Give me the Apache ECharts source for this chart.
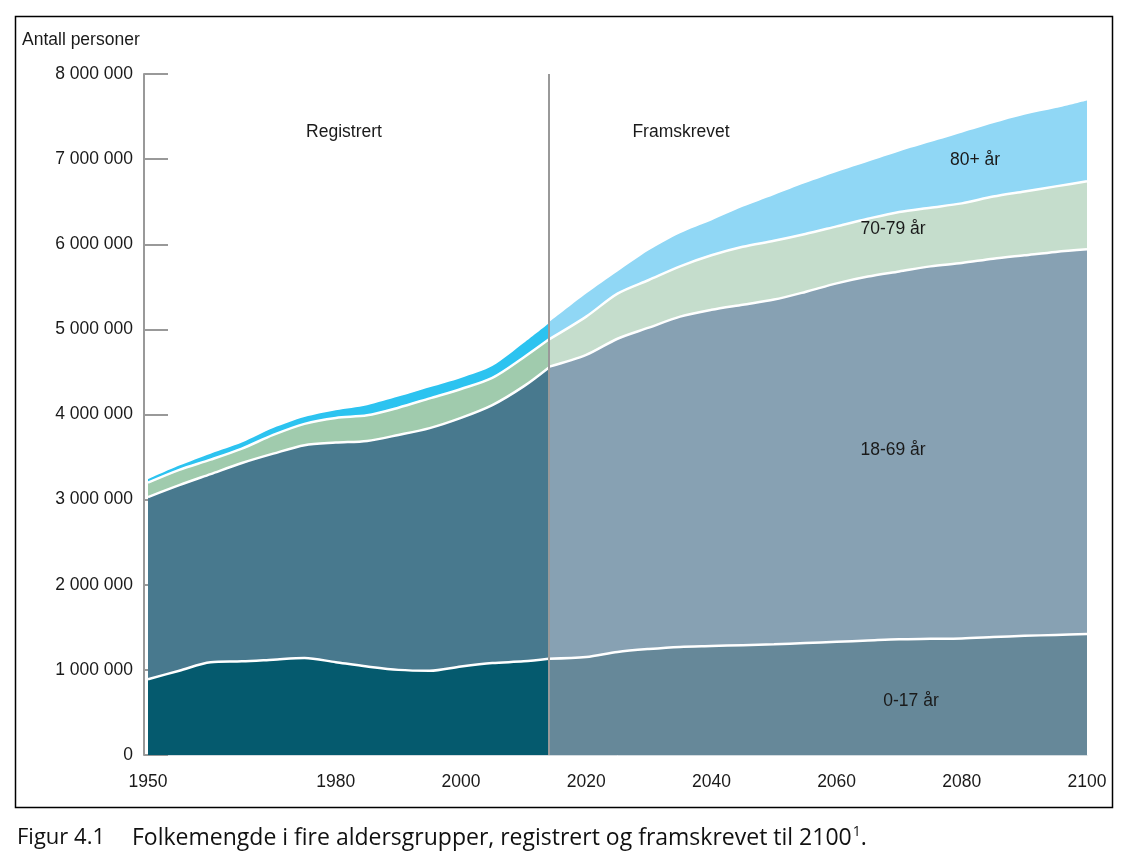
<!DOCTYPE html>
<html>
<head>
<meta charset="utf-8">
<script src="https://cdn.jsdelivr.net/npm/echarts@6/dist/echarts.min.js"></script>
<style>
html,body{margin:0;padding:0;background:#fff;}
#chart{width:1124px;height:852px;}
</style>
</head>
<body>
<div id="chart"></div>
<script>
// ---- Data (persons) ----
const regYears = [1950,1955,1960,1965,1970,1975,1980,1985,1990,1995,2000,2005,2010,2014];
const reg0_17  = [890000,990000,1090000,1100000,1120000,1140000,1090000,1040000,1000000,990000,1040000,1080000,1100000,1130000];
const reg18_69 = [2140000,2180000,2210000,2330000,2420000,2500000,2580000,2650000,2760000,2850000,2920000,3030000,3230000,3420000];
const reg70_79 = [170000,180000,170000,170000,220000,250000,290000,300000,320000,350000,340000,320000,340000,330000];
const reg80    = [40000,50000,70000,70000,80000,80000,90000,120000,130000,130000,130000,140000,170000,190000];

const projYears = [2014,2020,2025,2030,2035,2040,2045,2050,2055,2060,2065,2070,2075,2080,2085,2090,2095,2100];
const proj0_17  = [1130000,1150000,1210000,1245000,1270000,1280000,1290000,1300000,1315000,1330000,1345000,1360000,1365000,1370000,1385000,1400000,1410000,1420000];
const proj18_69 = [3430000,3550000,3680000,3775000,3880000,3950000,4000000,4050000,4125000,4210000,4275000,4320000,4375000,4410000,4445000,4470000,4500000,4520000];
const proj70_79 = [320000,450000,530000,560000,590000,640000,680000,690000,680000,670000,680000,700000,690000,700000,730000,750000,770000,800000];
const proj80    = [200000,270000,260000,350000,390000,410000,470000,540000,600000,640000,670000,710000,770000,830000,860000,900000,920000,950000];

const xTickLabels = [1950,1980,2000,2020,2040,2060,2080,2100];
const yTicks = [0,1000000,2000000,3000000,4000000,5000000,6000000,7000000,8000000];
const splitYear = 2014;

// value first, year second, so the stack is applied to the value dimension
const pair = (xs, vs) => xs.map((x, i) => [vs[i], x]);

const LBL = '"Liberation Sans", Arial, sans-serif';
const FS = 17.5;
const CAP = '"Open Sans", "Noto Sans", sans-serif';

function areaSeries(name, stack, xs, vs, color, z, whiteTop) {
  return {
    name: name,
    type: 'line',
    stack: stack,
    data: pair(xs, vs),
    encode: { x: 1, y: 0 },
    smooth: 0.3,
    symbol: 'none',
    z: z,
    lineStyle: whiteTop ? { color: '#ffffff', width: 2.5 } : { width: 0, opacity: 0 },
    areaStyle: { color: color, opacity: 1 },
    emphasis: { disabled: true },
    silent: true
  };
}

const chart = echarts.init(document.getElementById('chart'), null, { renderer: 'canvas' });

const series = [
  areaSeries('0-17 år', 'reg', regYears, reg0_17, '#055a6e', 10, true),
  areaSeries('18-69 år', 'reg', regYears, reg18_69, '#48798e', 9, true),
  areaSeries('70-79 år', 'reg', regYears, reg70_79, '#a0cbad', 8, true),
  areaSeries('80+ år', 'reg', regYears, reg80, '#2cc3f0', 7, false),
  areaSeries('0-17 år p', 'proj', projYears, proj0_17, '#668899', 10, true),
  areaSeries('18-69 år p', 'proj', projYears, proj18_69, '#87a1b3', 9, true),
  areaSeries('70-79 år p', 'proj', projYears, proj70_79, '#c5ddcc', 8, true),
  areaSeries('80+ år p', 'proj', projYears, proj80, '#90d7f5', 7, false)
];
series[4].markLine = {
  silent: true,
  symbol: 'none',
  z: 30,
  label: { show: false },
  lineStyle: { color: '#999999', width: 2, type: 'solid' },
  data: [{ xAxis: splitYear }]
};

const option = {
  animation: false,
  backgroundColor: '#ffffff',
  grid: { left: 148, right: 37, top: 74, bottom: 97 },
  xAxis: {
    type: 'value',
    min: 1950,
    max: 2100,
    interval: 10,
    z: 0,
    axisLine: { show: true, lineStyle: { color: '#d3dbe0', width: 1 } },
    axisTick: { show: false },
    splitLine: { show: false },
    axisLabel: {
      margin: 18,
      color: '#1a1a1a',
      fontFamily: LBL,
      fontSize: FS,
      showMinLabel: true,
      showMaxLabel: true,
      formatter: v => xTickLabels.indexOf(v) >= 0 ? String(v) : ''
    }
  },
  yAxis: {
    type: 'value',
    min: yTicks[0],
    max: yTicks[yTicks.length - 1],
    interval: 1000000,
    offset: 4,
    z: 0,
    axisLine: { show: true, lineStyle: { color: '#999999', width: 2 } },
    axisTick: { show: true, inside: true, length: 24, lineStyle: { color: '#999999', width: 2 } },
    splitLine: { show: false },
    axisLabel: {
      margin: 11,
      color: '#1a1a1a',
      fontFamily: LBL,
      fontSize: FS,
      formatter: v => String(v).replace(/\B(?=(\d{3})+(?!\d))/g, ' ')
    }
  },
  series: series,
  graphic: [
    { type: 'rect', shape: { x: 15.5, y: 16.5, width: 1097, height: 791 }, style: { fill: 'none', stroke: '#000', lineWidth: 1.5 }, silent: true },
    { type: 'text', left: 22, top: 31, style: { text: 'Antall personer', font: FS + 'px ' + LBL, fill: '#1a1a1a' } },
    { type: 'text', x: 344, y: 132, style: { text: 'Registrert', font: FS + 'px ' + LBL, fill: '#1a1a1a', align: 'center', verticalAlign: 'middle' }, z: 50 },
    { type: 'text', x: 681, y: 132, style: { text: 'Framskrevet', font: FS + 'px ' + LBL, fill: '#1a1a1a', align: 'center', verticalAlign: 'middle' }, z: 50 },
    { type: 'text', x: 975, y: 160, style: { text: '80+ år', font: FS + 'px ' + LBL, fill: '#1a1a1a', align: 'center', verticalAlign: 'middle' }, z: 50 },
    { type: 'text', x: 893, y: 229, style: { text: '70-79 år', font: FS + 'px ' + LBL, fill: '#1a1a1a', align: 'center', verticalAlign: 'middle' }, z: 50 },
    { type: 'text', x: 893, y: 450, style: { text: '18-69 år', font: FS + 'px ' + LBL, fill: '#1a1a1a', align: 'center', verticalAlign: 'middle' }, z: 50 },
    { type: 'text', x: 911, y: 701, style: { text: '0-17 år', font: FS + 'px ' + LBL, fill: '#1a1a1a', align: 'center', verticalAlign: 'middle' }, z: 50 },
    { type: 'text', x: 17, y: 838, style: { text: 'Figur 4.1', font: '22px ' + CAP, fill: '#111', verticalAlign: 'middle' } },
    { type: 'text', x: 132, y: 838, style: {
        text: '{a|Folkemengde i fire aldersgrupper, registrert og framskrevet til 2100}{s|1}{a|.}',
        verticalAlign: 'middle',
        rich: {
          a: { fontFamily: CAP, fontSize: 23, fill: '#111', lineHeight: 28 },
          s: { fontFamily: CAP, fontSize: 14, fill: '#111', lineHeight: 28, verticalAlign: 'top', padding: [1, 0, 0, 1] }
        }
      } }
  ]
};
chart.setOption(option);
</script>
</body>
</html>
